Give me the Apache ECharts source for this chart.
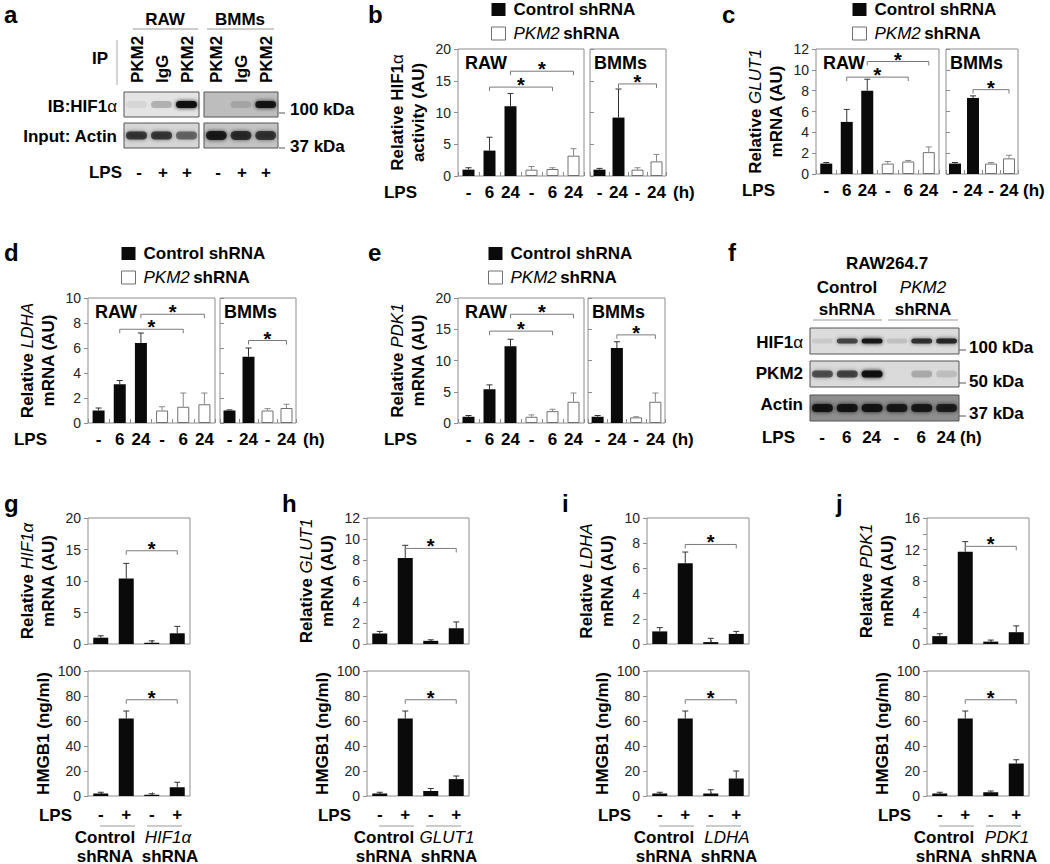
<!DOCTYPE html>
<html>
<head>
<meta charset="utf-8">
<title>PKM2 / HIF1α figure</title>
<script src="https://cdn.jsdelivr.net/npm/echarts@6.0.0/dist/echarts.min.js"></script>
<style>
  html, body { margin: 0; padding: 0; background: #fff; }
  #fig { width: 1050px; height: 864px; }
</style>
</head>
<body>
<div id="fig"></div>
<script>
const FONT = '"Liberation Sans", Arial, Helvetica, sans-serif';
const BOX = '#8c8c8c';

// x tick labels
const rawLps = ['-', '6', '24', '-', '6', '24'];
const bmmLps = ['-', '24', '-', '24'];
const kdLps = ['-', '+', '-', '+'];

// b: relative HIF1α activity
const hifRawCtrl = [1.0, 4.0, 11.0];
const hifRawCtrlErr = [0.3, 2.1, 2.0];
const hifRawKd = [1.0, 1.1, 3.2];
const hifRawKdErr = [0.5, 0.2, 1.1];
const hifBmmCtrl = [1.0, 9.2];
const hifBmmCtrlErr = [0.2, 4.5];
const hifBmmKd = [1.0, 2.3];
const hifBmmKdErr = [0.3, 1.1];
const hifSigRaw = [[1, 4, 14.0], [2, 5, 16.5]];
const hifSigBmm = [[1, 3, 14.5]];

// c: GLUT1 mRNA
const glutRawCtrl = [1.0, 5.0, 8.0];
const glutRawCtrlErr = [0.1, 1.2, 1.1];
const glutRawKd = [1.0, 1.2, 2.1];
const glutRawKdErr = [0.2, 0.1, 0.5];
const glutBmmCtrl = [1.0, 7.3];
const glutBmmCtrlErr = [0.1, 0.2];
const glutBmmKd = [1.0, 1.5];
const glutBmmKdErr = [0.1, 0.3];
const glutSigRaw = [[1, 4, 9.3], [2, 5, 10.8]];
const glutSigBmm = [[1, 3, 8.1]];

// d: LDHA mRNA
const ldhaRawCtrl = [1.0, 3.1, 6.4];
const ldhaRawCtrlErr = [0.2, 0.3, 0.8];
const ldhaRawKd = [1.0, 1.3, 1.5];
const ldhaRawKdErr = [0.3, 1.1, 0.9];
const ldhaBmmCtrl = [1.0, 5.3];
const ldhaBmmCtrlErr = [0.05, 0.7];
const ldhaBmmKd = [1.0, 1.2];
const ldhaBmmKdErr = [0.15, 0.3];
const ldhaSigRaw = [[1, 4, 7.5], [2, 5, 8.7]];
const ldhaSigBmm = [[1, 3, 6.6]];

// e: PDK1 mRNA
const pdkRawCtrl = [1.0, 5.4, 12.3];
const pdkRawCtrlErr = [0.2, 0.7, 1.1];
const pdkRawKd = [1.0, 1.9, 3.4];
const pdkRawKdErr = [0.3, 0.3, 1.4];
const pdkBmmCtrl = [1.0, 12.0];
const pdkBmmCtrlErr = [0.2, 1.0];
const pdkBmmKd = [0.9, 3.4];
const pdkBmmKdErr = [0.1, 1.4];
const pdkSigRaw = [[1, 4, 14.7], [2, 5, 17.4]];
const pdkSigBmm = [[1, 3, 14.1]];

// g-j: knockdown mRNA (top) and HMGB1 release (bottom)
const gMrna = [1.0, 10.4, 0.2, 1.7];
const gMrnaErr = [0.3, 2.4, 0.3, 1.1];
const gHmgb1 = [2, 62, 1, 7];
const gHmgb1Err = [1, 6, 0.8, 4];
const hMrna = [1.0, 8.2, 0.3, 1.5];
const hMrnaErr = [0.2, 1.2, 0.1, 0.6];
const hHmgb1 = [2, 62, 4, 13.5];
const hHmgb1Err = [1, 6, 2, 2.5];
const iMrna = [1.0, 6.4, 0.15, 0.8];
const iMrnaErr = [0.3, 0.9, 0.3, 0.2];
const iHmgb1 = [2, 62, 2, 14];
const iHmgb1Err = [1, 6, 3, 6];
const jMrna = [1.0, 11.7, 0.3, 1.5];
const jMrnaErr = [0.3, 1.3, 0.2, 0.8];
const jHmgb1 = [2, 62, 3, 26];
const jHmgb1Err = [1, 6, 1, 3];
const gSig = [[1, 3, 14.8]], hSig = [[1, 3, 9.1]], iSig = [[1, 3, 7.9]], jSig = [[1, 3, 12.4]];
const hmgbSig = [[1, 3, 77]];

// western blot band intensities (0..1)
const aHifRaw = [0.06, 0.2, 0.95];
const aHifBmm = [0.0, 0.12, 0.9];
const aActinRaw = [0.7, 0.7, 0.5];
const aActinBmm = [0.85, 0.75, 0.7];
const fHif = [0.08, 0.65, 0.9, 0.12, 0.75, 0.8];
const fPkm2 = [0.6, 0.65, 0.95, 0.0, 0.2, 0.12];
const fActin = [0.9, 0.9, 0.9, 0.85, 0.85, 0.8];

const RICH = {
  b: {fontFamily: FONT, fontSize: 17, fontWeight: 'bold', lineHeight: 21, color: '#000'},
  n: {fontFamily: FONT, fontSize: 17, lineHeight: 21, color: '#000'},
  i: {fontFamily: FONT, fontSize: 17, fontStyle: 'italic', lineHeight: 21, color: '#000'}
};
const BLACK = {color: '#0a0a0a'};
const WHITE = {color: '#fff', borderColor: '#707070', borderWidth: 1};

const grids = [], xAxes = [], yAxes = [], series = [], legends = [], gfx = [];

function addGrid(box, cats, max, step, o) {
  const i = grids.length;
  grids.push({left: box[0], top: box[1], width: box[2], height: box[3], show: true,
    borderColor: BOX, borderWidth: 1, backgroundColor: 'transparent'});
  xAxes.push({
    gridIndex: i, type: 'category', data: cats,
    axisLine: {show: false},
    axisTick: {show: true, inside: true, length: 4, alignWithLabel: !!o.tickCenter, lineStyle: {color: BOX}},
    axisLabel: {show: o.xLabels !== false, interval: 0, margin: o.xMargin || 8, color: '#000',
      fontFamily: FONT, fontSize: 17, fontWeight: 'bold'}
  });
  yAxes.push({
    gridIndex: i, type: 'value', min: 0, max: max, interval: step,
    splitLine: {show: false}, axisLine: {show: false},
    axisTick: {show: true, inside: !!o.inner, length: 4, lineStyle: {color: BOX}},
    minorTick: {show: !!o.minor, splitNumber: 2, length: 4, lineStyle: {color: BOX}},
    axisLabel: {show: !o.inner, margin: 7, color: '#222', fontFamily: FONT, fontSize: 14},
    name: o.name || '', nameLocation: 'middle', nameRotate: 90, nameGap: o.nameGap || 29,
    nameTextStyle: {rich: RICH}
  });
  return i;
}

function errBar(color) {
  return function (params, api) {
    const base = api.coord([api.value(0), api.value(1)]);
    const top = api.coord([api.value(0), api.value(1) + api.value(2)]);
    const st = {stroke: color, lineWidth: 1};
    return {type: 'group', children: [
      {type: 'line', shape: {x1: base[0], y1: base[1], x2: top[0], y2: top[1]}, style: st},
      {type: 'line', shape: {x1: top[0] - 3, y1: top[1], x2: top[0] + 3, y2: top[1]}, style: st}
    ]};
  };
}

function sigBracket(params, api) {
  const y = api.value(2);
  const a = api.coord([api.value(0), y]);
  const b = api.coord([api.value(1), y]);
  return {type: 'group', children: [
    {type: 'polyline', shape: {points: [[a[0], a[1] + 4], [a[0], a[1]], [b[0], b[1]], [b[0], b[1] + 4]]},
      style: {stroke: '#7a7a7a', lineWidth: 1, fill: null}},
    {type: 'text', x: (a[0] + b[0]) / 2, y: a[1] - 2,
      style: {text: '*', fontFamily: FONT, fontSize: 20, fontWeight: 'bold', fill: '#000', align: 'center', verticalAlign: 'middle'}}
  ]};
}

function addBars(gi, values, errs, offset, total, style, name, errColor, bw) {
  const data = [];
  for (let k = 0; k < total; k++) data.push('-');
  values.forEach((v, k) => { data[offset + k] = v; });
  series.push({type: 'bar', name: name, xAxisIndex: gi, yAxisIndex: gi, data: data,
    barWidth: bw, barGap: '-100%', itemStyle: style, silent: true});
  series.push({type: 'custom', xAxisIndex: gi, yAxisIndex: gi, renderItem: errBar(errColor),
    data: values.map((v, k) => [offset + k, v, errs[k]]), encode: {x: 0, y: 1}, z: 3, silent: true});
}

function addSig(gi, list) {
  series.push({type: 'custom', xAxisIndex: gi, yAxisIndex: gi, renderItem: sigBracket,
    data: list, encode: {x: [0, 1], y: 2}, z: 4, silent: true});
}

function txt(x, y, s, o) {
  o = o || {};
  return {type: 'text', x: x, y: y, rotation: o.rot || 0, silent: true,
    style: {text: s, fill: '#000', fontFamily: FONT, fontSize: o.size || 17, fontWeight: o.w || 'bold',
      fontStyle: o.it ? 'italic' : 'normal', align: o.align || 'left', verticalAlign: 'middle', rich: o.rich}};
}
function ln(x1, y1, x2, y2, c) {
  return {type: 'line', silent: true, shape: {x1: x1, y1: y1, x2: x2, y2: y2}, style: {stroke: c || '#999', lineWidth: 1}};
}
function blot(x, y, w, h, bg, bands, bandH) {
  gfx.push({type: 'rect', silent: true, shape: {x: x, y: y, width: w, height: h}, style: {fill: bg, stroke: '#555', lineWidth: 1}});
  const lw = w / bands.length;
  bands.forEach((a, k) => {
    if (a <= 0) return;
    const cx = x + lw * (k + 0.5);
    gfx.push({type: 'rect', silent: true,
      shape: {x: cx - lw * 0.42, y: y + h / 2 - bandH / 2, width: lw * 0.84, height: bandH, r: bandH / 2},
      style: {fill: 'rgba(15,15,15,' + a + ')', shadowBlur: 4, shadowColor: 'rgba(15,15,15,' + a + ')'}});
  });
}

function addLegend(left, top) {
  legends.push({left: left, top: top, orient: 'vertical', padding: 0, itemGap: 7, itemWidth: 14, itemHeight: 13,
    icon: 'rect', selectedMode: false,
    data: [{name: 'Control shRNA', itemStyle: BLACK}, {name: 'PKM2 shRNA', itemStyle: WHITE}],
    formatter: n => n === 'PKM2 shRNA' ? '{i|PKM2} {b|shRNA}' : '{b|Control shRNA}',
    textStyle: {padding: [0, 0, 0, 3], rich: {b: {fontFamily: FONT, fontSize: 17, fontWeight: 'bold', color: '#000'},
      i: {fontFamily: FONT, fontSize: 17, fontStyle: 'italic', color: '#000'}}}
  });
}

// panels b-e: RAW box + BMMs box
function groupPanel(raw, bmm, max, step, name, d, hx) {
  const r = addGrid(raw, rawLps, max, step, {name: name});
  addBars(r, d[0], d[1], 0, 6, BLACK, 'Control shRNA', '#333', 12);
  addBars(r, d[2], d[3], 3, 6, WHITE, 'PKM2 shRNA', '#888', 12);
  addSig(r, d[8]);
  const b = addGrid(bmm, bmmLps, max, step, {inner: true});
  addBars(b, d[4], d[5], 0, 4, BLACK, 'Control shRNA', '#333', 12);
  addBars(b, d[6], d[7], 2, 4, WHITE, 'PKM2 shRNA', '#888', 12);
  addSig(b, d[9]);
  const ly = raw[1] + raw[3] + 16;
  gfx.push(txt(raw[0] + 7, raw[1] + 14, 'RAW', {size: 18}));
  gfx.push(txt(bmm[0] + 4, raw[1] + 14, 'BMMs', {size: 18}));
  gfx.push(txt(raw[0] - 41, ly, 'LPS', {align: 'right'}));
  gfx.push(txt(hx || bmm[0] + bmm[2] + 7, ly, '(h)'));
}

// panels g-j: mRNA on top, HMGB1 below
function knockPanel(left, max, step, minor, name, gene, m, mErr, h, hErr, sig) {
  const t = addGrid([left, 518, 102, 126], kdLps, max, step, {name: name, xLabels: false, tickCenter: true, minor: minor});
  addBars(t, m, mErr, 0, 4, BLACK, 'mRNA', '#333', 15);
  addSig(t, sig);
  const b = addGrid([left, 671, 102, 125], kdLps, 100, 20,
    {name: '{b|HMGB1 (ng/ml)}', nameGap: 34, tickCenter: true, xMargin: 10});
  addBars(b, h, hErr, 0, 4, BLACK, 'HMGB1', '#333', 15);
  addSig(b, hmgbSig);
  gfx.push(txt(left - 16, 815, 'LPS', {align: 'right'}));
  gfx.push(ln(left + 12, 826, left + 47, 826));
  gfx.push(ln(left + 59, 826, left + 94, 826));
  gfx.push(txt(left + 17, 837, 'Control', {align: 'center'}));
  gfx.push(txt(left + 17, 856, 'shRNA', {align: 'center'}));
  gfx.push(txt(left + 80, 837, gene, {align: 'center', w: 'normal', it: true}));
  gfx.push(txt(left + 82, 856, 'shRNA', {align: 'center'}));
}

groupPanel([458, 49, 126, 127], [590, 49, 76, 127], 20, 5, '{b|Relative HIF1}{n|α}\n{b|activity (AU)}',
  [hifRawCtrl, hifRawCtrlErr, hifRawKd, hifRawKdErr, hifBmmCtrl, hifBmmCtrlErr, hifBmmKd, hifBmmKdErr, hifSigRaw, hifSigBmm]);
groupPanel([816, 49, 123, 125], [946, 49, 72, 125], 12, 2, '{b|Relative }{i|GLUT1}\n{b|mRNA (AU)}',
  [glutRawCtrl, glutRawCtrlErr, glutRawKd, glutRawKdErr, glutBmmCtrl, glutBmmCtrlErr, glutBmmKd, glutBmmKdErr, glutSigRaw, glutSigBmm], 1023);
groupPanel([88, 298, 127, 125], [220, 298, 76, 125], 10, 2, '{b|Relative }{i|LDHA}\n{b|mRNA (AU)}',
  [ldhaRawCtrl, ldhaRawCtrlErr, ldhaRawKd, ldhaRawKdErr, ldhaBmmCtrl, ldhaBmmCtrlErr, ldhaBmmKd, ldhaBmmKdErr, ldhaSigRaw, ldhaSigBmm]);
groupPanel([458, 298, 126, 125], [588, 298, 77, 125], 20, 5, '{b|Relative }{i|PDK1}\n{b|mRNA (AU)}',
  [pdkRawCtrl, pdkRawCtrlErr, pdkRawKd, pdkRawKdErr, pdkBmmCtrl, pdkBmmCtrlErr, pdkBmmKd, pdkBmmKdErr, pdkSigRaw, pdkSigBmm]);
addLegend(491, 1);
addLegend(852, 1);
addLegend(121, 245);
addLegend(488, 245);

knockPanel(88, 20, 5, false, '{b|Relative }{i|HIF1α}\n{b|mRNA (AU)}', 'HIF1α', gMrna, gMrnaErr, gHmgb1, gHmgb1Err, gSig);
knockPanel(367, 12, 2, false, '{b|Relative }{i|GLUT1}\n{b|mRNA (AU)}', 'GLUT1', hMrna, hMrnaErr, hHmgb1, hHmgb1Err, hSig);
knockPanel(647, 10, 2, false, '{b|Relative }{i|LDHA}\n{b|mRNA (AU)}', 'LDHA', iMrna, iMrnaErr, iHmgb1, iHmgb1Err, iSig);
knockPanel(927, 16, 4, true, '{b|Relative }{i|PDK1}\n{b|mRNA (AU)}', 'PDK1', jMrna, jMrnaErr, jHmgb1, jHmgb1Err, jSig);

// panel letters
[['a', 4, 14], ['b', 368, 14], ['c', 722, 14], ['d', 4, 252], ['e', 368, 252], ['f', 728, 252],
 ['g', 4, 503], ['h', 282, 503], ['i', 562, 503], ['j', 836, 503]].forEach(l => gfx.push(txt(l[1], l[2], l[0], {size: 24})));

// panel a: co-IP blot
gfx.push(txt(165, 19, 'RAW', {align: 'center'}));
gfx.push(txt(240, 19, 'BMMs', {align: 'center'}));
gfx.push(ln(133, 29, 198, 29), ln(207, 29, 274, 29), ln(117, 40, 117, 85, '#aaa'));
gfx.push(txt(100, 58, 'IP', {align: 'center'}));
['PKM2', 'IgG', 'PKM2'].forEach((s, k) => {
  gfx.push(txt(137 + k * 25, 83, s, {rot: Math.PI / 2}));
  gfx.push(txt(216 + k * 25, 83, s, {rot: Math.PI / 2}));
});
blot(124, 92, 75, 25, '#e4e4e4', aHifRaw, 7);
blot(204, 92, 74, 25, '#bdbdbd', aHifBmm, 7);
blot(124, 123, 75, 25, '#d6d6d6', aActinRaw, 8);
blot(204, 123, 74, 25, '#c4c4c4', aActinBmm, 9);
gfx.push(txt(117, 106, '{b|IB:HIF1}{n|α}', {align: 'right', rich: RICH}));
gfx.push(txt(117, 136, 'Input: Actin', {align: 'right'}));
gfx.push(ln(279, 113, 285, 113, '#555'), ln(279, 148, 285, 148, '#555'));
gfx.push(txt(290, 109, '100 kDa'), txt(290, 146, '37 kDa'));
gfx.push(txt(122, 172, 'LPS', {align: 'right'}));
['-', '+', '+'].forEach((s, k) => {
  gfx.push(txt(139 + k * 24, 172, s, {align: 'center'}));
  gfx.push(txt(218 + k * 24, 172, s, {align: 'center'}));
});

// panel f: knockdown blot
gfx.push(txt(887, 263, 'RAW264.7', {align: 'center'}));
gfx.push(txt(847, 287, 'Control', {align: 'center'}), txt(847, 309, 'shRNA', {align: 'center'}));
gfx.push(txt(923, 287, 'PKM2', {align: 'center', w: 'normal', it: true}), txt(923, 309, 'shRNA', {align: 'center'}));
gfx.push(ln(813, 320, 882, 320), ln(888, 320, 958, 320));
blot(810, 328, 149, 26, '#dcdcdc', fHif, 5);
blot(810, 361, 149, 26, '#dadada', fPkm2, 7);
blot(810, 395, 149, 26, '#8e8e8e', fActin, 8);
gfx.push(txt(803, 342, '{b|HIF1}{n|α}', {align: 'right', rich: RICH}));
gfx.push(txt(803, 373, 'PKM2', {align: 'right'}), txt(803, 404, 'Actin', {align: 'right'}));
gfx.push(ln(959, 350, 966, 350, '#555'), ln(959, 383, 966, 383, '#555'), ln(959, 416, 966, 416, '#555'));
gfx.push(txt(969, 347, '100 kDa'), txt(969, 381, '50 kDa'), txt(969, 413, '37 kDa'));
gfx.push(txt(795, 437, 'LPS', {align: 'right'}));
['-', '6', '24', '-', '6', '24'].forEach((s, k) => gfx.push(txt(822 + k * 24.8, 437, s, {align: 'center'})));
gfx.push(txt(960, 437, '(h)'));

const chart = echarts.init(document.getElementById('fig'), null, {renderer: 'svg'});
chart.setOption({
  animation: false,
  backgroundColor: '#fff',
  textStyle: {fontFamily: FONT},
  grid: grids,
  xAxis: xAxes,
  yAxis: yAxes,
  legend: legends,
  series: series,
  graphic: {elements: gfx}
});
</script>
</body>
</html>
